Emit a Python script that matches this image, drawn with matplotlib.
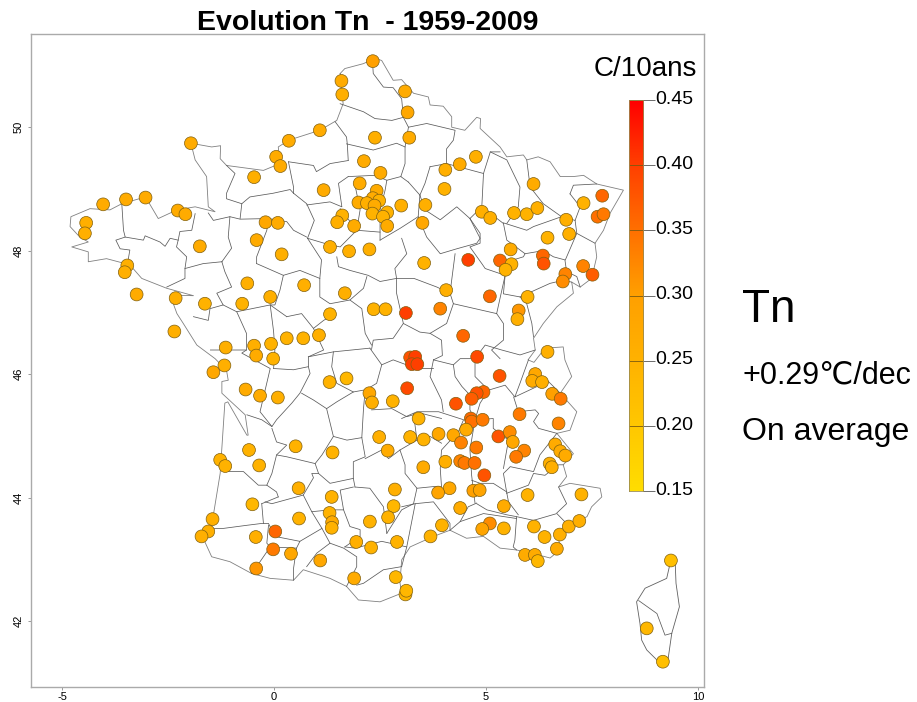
import matplotlib
matplotlib.use('Agg')
import matplotlib.pyplot as plt
import numpy as np
from matplotlib.colors import LinearSegmentedColormap
from matplotlib.transforms import ScaledTranslation

plt.rcParams['font.family'] = ['Liberation Sans', 'DejaVu Sans']
plt.rcParams['axes.unicode_minus'] = False

# Stations: longitude, latitude, trend in C per decade
lon = [-1.96, .35, 1.08, .05, .15, -.47, 1.17, -4.03, -3.49, -3.03, -2.27, -2.09, -4.43, -4.46, -.20, .09, -.41, -1.75, .18, -3.46,
       -3.52, -3.24, -.63, .71, -2.32, -1.63, -.75, -.09, -2.35, -1.14, -.47, -.07, .30, .69, 1.06, -.42, -.02, 1.32, 1.32,
       2.33, 1.59, 1.61, 3.09, 3.15, 2.38, 3.19, 2.12, 2.51, 2.02, 2.42, 2.33, 2.48, 1.99, 2.19, 2.37, 2.32, 2.67, 2.57, 2.67,
       3.00, 1.61, 1.49, 1.89, 3.57, 3.50, 4.04, 4.38, 4.76, 4.02, 1.77, 2.25, 3.54, 4.06, 4.58, 5.33, 5.60, 5.46, 5.58, 4.90,
       5.10, 5.66, 5.96, 6.21, 6.12, 6.89, 6.96, 6.45, 7.30, 7.74, 7.63, 7.77, 6.34, 6.36, 7.29, 7.51, 6.87, 6.81, 5.09, 5.98,
       5.77, 5.74, 1.67, 2.35, 2.63, 3.11, 3.92, 4.46, 6.45, 3.21, 3.33, 3.25, 3.38, 4.79,
       -1.17, -1.43, -.67, -.33, .09, 1.31, 1.71, 2.25, 2.31, 2.80, 3.14, 3.41, 2.48, 3.21, 3.53, 2.68, 3.52, .51, 1.38, -.59,
       -.35, -1.27, -1.15, .58, 1.36, 2.85, 2.82, -.51, .59, 1.31, 1.37, 1.36, 2.26, 2.69, -1.45, -1.55, -1.71, -.43, .03, -.02,
       .40, 1.09, -.42, 1.94, 2.29, 2.90, 3.69, 1.89, 2.87, 3.10, 3.12,
       6.16, 6.09, 6.32, 6.56, 6.76, 5.32, 4.94, 4.78, 4.66, 4.29, 5.79, 4.64, 4.66, 4.92, 4.53, 4.23, 3.88, 4.41, 5.29, 5.56,
       5.63, 6.71, 6.63, 6.75, 6.87, 5.90, 5.71, 4.77, 4.39, 4.49, 4.73, 4.04, 4.96, 6.50, 6.55, 4.14, 3.87, 4.70, 4.85, 4.39,
       5.42, 5.98, 7.25, 5.09, 4.91, 5.42, 3.96, 6.13, 6.38, 6.74, 6.95, 7.20, 6.67, 5.92, 6.15, 6.22, 9.36, 8.79, 9.17]
lat = [49.74, 49.78, 49.95, 49.52, 49.37, 49.19, 48.98, 48.75, 48.83, 48.86, 48.65, 48.59, 48.45, 48.28, 48.46, 48.45, 48.17, 48.07, 47.94, 47.76,
       47.65, 47.29, 47.47, 47.44, 47.23, 47.14, 47.14, 47.25, 46.69, 46.43, 46.46, 46.49, 46.58, 46.58, 46.63, 46.30, 46.25, 48.06, 46.97,
       51.07, 50.75, 50.53, 50.58, 50.24, 49.83, 49.83, 49.45, 49.26, 49.09, 48.97, 48.85, 48.81, 48.78, 48.77, 48.73, 48.60, 48.62, 48.55, 48.40,
       48.73, 48.57, 48.46, 48.40, 48.74, 48.45, 49.31, 49.40, 49.52, 49.00, 47.99, 48.02, 47.80, 47.36, 47.85, 47.84, 47.78, 47.69, 48.02, 48.63,
       48.53, 48.61, 48.59, 48.69, 49.08, 48.50, 48.27, 48.21, 48.77, 48.89, 48.55, 48.59, 47.92, 47.79, 47.75, 47.61, 47.62, 47.50, 47.26, 47.25,
       47.03, 46.89, 47.31, 47.05, 47.05, 46.99, 47.06, 46.62, 46.36, 46.27, 46.28, 46.16, 46.16, 46.28,
       46.14, 46.03, 45.75, 45.65, 45.62, 45.87, 45.93, 45.69, 45.54, 45.56, 45.77, 45.28, 44.98, 44.98, 44.94, 44.76, 44.49, 44.83, 44.73, 44.77,
       44.52, 44.61, 44.51, 44.15, 44.01, 44.13, 43.86, 43.89, 43.66, 43.75, 43.60, 43.51, 43.61, 43.68, 43.65, 43.45, 43.37, 43.36, 43.45, 43.16,
       43.09, 42.98, 42.85, 43.28, 43.19, 43.28, 43.37, 42.69, 42.71, 42.43, 42.49,
       46.00, 45.89, 45.87, 45.68, 45.60, 45.97, 45.71, 45.69, 45.60, 45.52, 45.35, 45.28, 45.23, 45.26, 45.10, 45.01, 45.03, 44.89, 44.99, 45.06,
       44.90, 45.20, 44.86, 44.75, 44.68, 44.76, 44.66, 44.81, 44.59, 44.56, 44.56, 44.58, 44.36, 44.55, 44.49, 44.15, 44.08, 44.11, 44.12, 43.83,
       43.86, 44.04, 44.05, 43.58, 43.49, 43.50, 43.55, 43.53, 43.36, 43.40, 43.53, 43.62, 43.17, 43.07, 43.07, 42.97, 42.98, 41.88, 41.34]
trend = [.27, .27, .27, .27, .27, .26, .27, .27, .27, .27, .27, .27, .26, .26, .28, .27, .27, .27, .26, .26,
         .26, .27, .26, .26, .26, .25, .25, .26, .26, .26, .26, .25, .25, .25, .26, .27, .25, .26, .25,
         .30, .27, .26, .27, .28, .26, .27, .27, .27, .27, .27, .27, .25, .27, .26, .27, .25, .25, .25, .27,
         .26, .25, .26, .27, .26, .28, .26, .27, .26, .25, .26, .26, .25, .26, .40, .36, .25, .25, .27, .26,
         .26, .25, .25, .26, .27, .26, .26, .25, .25, .36, .35, .34, .36, .38, .33, .37, .33, .32, .36, .25,
         .31, .26, .26, .25, .25, .40, .33, .36, .26, .38, .40, .40, .40, .39,
         .26, .28, .27, .27, .26, .25, .24, .28, .26, .25, .39, .25, .26, .25, .25, .27, .27, .25, .25, .25,
         .25, .25, .25, .26, .25, .26, .24, .24, .25, .25, .27, .25, .25, .25, .26, .26, .26, .26, .36, .34,
         .28, .28, .31, .26, .25, .25, .25, .27, .24, .24, .24,
         .28, .27, .26, .30, .34, .38, .36, .38, .37, .38, .34, .36, .35, .34, .27, .28, .28, .33, .38, .32,
         .28, .33, .27, .27, .27, .33, .34, .34, .33, .34, .35, .26, .38, .26, .26, .28, .29, .30, .29, .27,
         .27, .25, .25, .32, .29, .25, .25, .25, .25, .26, .26, .26, .27, .27, .27, .24, .22, .24, .22]

# Coastline and land frontier
france_outline = [(1.56, 50.87), (1.67, 50.95), (2.11, 51.03), (2.38, 51.12), (2.54, 51.08), (2.81, 50.76), (3.01, 50.77), (3.29, 50.55),
                  (3.64, 50.49), (3.68, 50.36), (3.99, 50.34), (4.19, 50.17), (4.19, 50.0), (4.50, 49.95), (4.78, 50.16), (4.87, 50.14),
                  (4.86, 49.98), (5.33, 49.68), (5.49, 49.52), (5.88, 49.55), (5.96, 49.47), (6.23, 49.52), (6.51, 49.44), (6.75, 49.20),
                  (7.06, 49.20), (7.30, 49.22), (7.61, 49.08), (8.24, 48.98), (7.92, 48.60), (7.77, 48.33), (7.57, 48.12), (7.61, 47.90),
                  (7.49, 47.55), (7.22, 47.41), (7.02, 47.49), (7.06, 47.31), (6.67, 47.09), (6.35, 46.82), (6.12, 46.58), (6.16, 46.39),
                  (5.99, 46.23), (6.13, 46.19), (6.39, 46.42), (6.82, 46.44), (6.86, 46.23), (7.02, 45.96), (6.75, 45.69), (7.14, 45.39),
                  (6.98, 45.09), (6.67, 45.04), (7.06, 44.71), (6.82, 44.53), (6.90, 44.34), (6.71, 44.17), (6.98, 44.23), (7.69, 44.15),
                  (7.73, 44.01), (7.49, 43.85), (7.38, 43.69), (6.90, 43.53), (6.67, 43.37), (6.79, 43.18), (6.51, 43.02), (6.12, 43.09),
                  (5.72, 43.15), (5.33, 43.18), (4.94, 43.37), (4.54, 43.34), (4.15, 43.47), (3.76, 43.37), (3.21, 43.20), (3.01, 42.99),
                  (2.97, 42.62), (3.01, 42.45), (2.50, 42.31), (1.99, 42.34), (1.71, 42.56), (1.32, 42.69), (.69, 42.83), (.46, 42.66),
                  (-.09, 42.69), (-.53, 42.77), (-1.04, 42.96), (-1.47, 43.04), (-1.65, 43.31), (-1.47, 43.55), (-1.27, 44.39), (-1.16, 45.53),
                  (-1.09, 45.55), (-.64, 45.01), (-.61, 45.01), (-.68, 45.34), (-1.23, 45.69), (-1.23, 45.88), (-1.08, 45.90), (-1.12, 46.06),
                  (-1.39, 46.25), (-1.82, 46.47), (-2.14, 46.82), (-2.29, 46.98), (-2.45, 47.28), (-1.90, 47.27), (-2.53, 47.39), (-3.12, 47.55),
                  (-3.40, 47.77), (-3.95, 47.87), (-4.38, 47.82), (-4.38, 47.98), (-4.77, 48.06), (-4.38, 48.14), (-4.58, 48.22), (-4.81, 48.39),
                  (-4.79, 48.55), (-4.34, 48.68), (-3.87, 48.66), (-3.59, 48.76), (-3.03, 48.87), (-2.73, 48.52), (-2.29, 48.66), (-1.86, 48.71),
                  (-1.39, 48.63), (-1.55, 48.71), (-1.59, 49.2), (-1.86, 49.47), (-1.96, 49.74), (-1.47, 49.68), (-1.26, 49.70), (-1.27, 49.49),
                  (-1.12, 49.38), (-.25, 49.30), (.14, 49.41), (.10, 49.68), (.35, 49.79), (1.08, 49.95), (1.48, 50.11), (1.63, 50.38), (1.56, 50.87)]
corsica_outline = [(9.46, 42.96), (9.48, 42.61), (9.56, 42.23), (9.38, 41.80), (9.29, 41.37), (9.10, 41.32), (8.79, 41.53), (8.67, 41.69),
                   (8.63, 41.96), (8.55, 42.31), (8.75, 42.53), (9.26, 42.69), (9.34, 42.93), (9.46, 42.96)]

# Department borders
borders = [
    [(8.6, 42.33), (9.03, 42.12), (9.22, 41.77), (9.38, 41.80)],
    [(-3.59, 48.76), (-3.55, 48.33), (-3.51, 48.22), (-3.73, 48.17), (-3.63, 48.03), (-3.40, 48.01), (-3.44, 47.85)],
    [(-3.51, 48.22), (-3.08, 48.17), (-3.04, 48.24), (-2.69, 48.14), (-2.57, 48.07), (-2.45, 48.20), (-2.26, 48.17)],
    [(-1.86, 48.60), (-1.94, 48.33), (-2.22, 48.31), (-2.26, 48.17), (-2.30, 48.06), (-2.06, 47.90), (-2.10, 47.71), (-2.10, 47.55), (-2.53, 47.41)],
    [(-2.10, 47.71), (-1.67, 47.79), (-1.23, 47.82)],
    [(-1.55, 48.61), (-1.43, 48.49), (-1.04, 48.55), (-1.08, 48.22), (-1.0, 48.04), (-1.23, 47.82)],
    [(-1.04, 48.55), (-.80, 48.51), (-.13, 48.52), (-.17, 48.33), (-.41, 47.90), (-.41, 47.79)],
    [(-1.12, 49.38), (-.92, 49.25), (-1.12, 48.93), (-1.12, 48.84), (-.76, 48.76), (-.80, 48.52)],
    [(-.76, 48.76), (-.57, 48.87), (-.02, 48.93), (.38, 48.99), (.46, 48.93)],
    [(-.13, 48.52), (.30, 48.47), (.46, 48.33), (.77, 48.22)],
    [(.46, 48.93), (.77, 48.76), (.95, 48.49), (.79, 48.20)],
    [(.34, 49.44), (.46, 49.03), (.46, 48.93)],
    [(.34, 49.44), (.93, 49.38), (1.0, 49.28), (1.32, 49.41), (1.75, 49.46)],
    [(1.44, 50.09), (1.71, 49.84), (1.73, 49.71), (1.75, 49.46)],
    [(.77, 48.74), (1.32, 48.79), (1.60, 48.71), (1.52, 49.09), (1.75, 49.2)],
    [(1.56, 50.38), (2.11, 50.25), (2.38, 50.14), (2.78, 50.11), (3.05, 50.16)],
    [(2.33, 50.98), (2.34, 50.87), (2.58, 50.65), (2.81, 50.64), (3.01, 50.46), (3.05, 50.16)],
    [(3.05, 50.16), (3.17, 50.0), (3.60, 50.06), (4.27, 49.95), (4.23, 49.79), (4.07, 49.65), (4.07, 49.41)],
    [(1.71, 49.73), (2.34, 49.63), (2.89, 49.74), (3.09, 49.68)],
    [(3.17, 50.0), (3.09, 49.68), (3.09, 49.41), (2.99, 49.2), (3.17, 49.11)],
    [(1.75, 49.2), (2.38, 49.22), (2.66, 49.14), (2.99, 49.2)],
    [(3.17, 49.11), (3.44, 48.9), (3.40, 48.55), (2.97, 48.36), (2.5, 48.17)],
    [(2.66, 49.14), (2.62, 48.98), (2.5, 48.66), (2.5, 48.17)],
    [(1.91, 49.06), (2.03, 48.66), (1.95, 48.33), (1.56, 48.68)],
    [(1.95, 48.33), (2.5, 48.30)],
    [(.79, 48.20), (1.28, 48.1), (1.56, 48.06), (1.95, 48.33)],
    [(3.40, 48.55), (3.60, 48.22), (3.92, 47.95), (4.31, 48.03), (4.78, 48.12), (4.86, 48.2), (4.62, 48.52), (4.31, 48.71), (3.92, 48.5), (3.56, 48.66), (3.44, 48.9)],
    [(3.68, 49.36), (4.07, 49.41), (4.94, 49.25), (5.1, 49.6), (5.33, 49.6)],
    [(3.68, 49.36), (3.56, 49.09), (3.44, 48.9)],
    [(4.94, 49.25), (4.90, 48.71), (4.62, 48.52)],
    [(5.1, 49.6), (5.49, 49.47), (5.8, 49.03), (5.76, 48.71), (5.49, 48.44)],
    [(4.90, 48.71), (5.41, 48.44)],
    [(5.96, 49.47), (6.04, 49.03), (6.35, 48.76), (6.78, 48.55)],
    [(6.98, 48.92), (7.06, 49.06), (7.61, 49.08)],
    [(6.98, 48.92), (7.22, 48.71), (7.1, 48.49)],
    [(5.41, 48.45), (5.96, 48.33), (6.12, 48.39), (6.78, 48.55), (7.1, 48.49), (7.14, 48.28), (6.87, 47.85)],
    [(7.14, 48.28), (7.57, 48.12)],
    [(4.62, 48.52), (4.86, 48.28), (4.86, 48.12), (4.62, 48.06), (4.9, 47.79), (4.98, 47.71), (5.45, 47.60), (5.64, 47.85), (5.88, 47.9), (5.92, 47.95), (5.49, 48.17), (5.41, 48.44)],
    [(5.45, 47.6), (5.41, 47.3), (5.8, 47.25), (6.51, 47.47), (6.82, 47.52), (7.02, 47.49)],
    [(5.92, 47.95), (6.35, 48.0), (6.59, 47.9), (6.86, 47.85), (6.9, 47.66), (7.14, 47.58), (7.22, 47.41)],
    [(6.82, 47.52), (6.9, 47.66)],
    [(5.8, 47.25), (5.96, 47.14), (6.08, 46.82), (6.12, 46.6)],
    [(3.01, 48.2), (3.13, 47.95), (2.85, 47.71), (2.89, 47.55), (3.3, 47.55), (3.84, 47.41), (4.15, 47.31), (4.23, 47.14), (5.25, 46.98)],
    [(1.48, 47.9), (1.52, 47.74), (1.79, 47.68), (2.22, 47.6), (2.5, 47.5), (2.89, 47.55)],
    [(2.19, 47.58), (2.11, 47.39), (1.79, 47.2), (2.07, 47.06), (2.15, 46.66), (2.3, 46.47)],
    [(2.89, 47.55), (2.89, 47.31), (3.05, 46.82), (2.81, 46.58), (2.34, 46.55), (2.3, 46.4)],
    [(4.27, 47.95), (4.15, 47.31)],
    [(5.25, 46.98), (5.45, 47.6)],
    [(3.05, 46.82), (3.44, 46.68), (3.68, 46.66), (4.07, 46.82), (4.23, 47.14)],
    [(5.25, 46.98), (5.41, 46.82), (5.41, 46.55), (5.13, 46.39), (5.33, 46.25)],
    [(-1.9, 46.93), (-1.55, 46.87), (-1.51, 47.06), (-1.2, 47.12), (-1.35, 47.31), (-1.0, 47.41), (-1.16, 47.66), (-1.23, 47.82)],
    [(-1.2, 47.12), (-.88, 47.01), (-.09, 47.12), (.3, 46.93)],
    [(-.88, 47.01), (-.65, 46.66), (-.65, 46.39), (-1.5, 46.39)],
    [(-.09, 47.12), (-.01, 46.69), (.02, 46.39), (-.01, 46.09)],
    [(-.65, 46.39), (-.76, 46.34), (-.09, 46.09), (-.33, 45.39), (-.05, 45.15)],
    [(-.01, 46.09), (.46, 46.07), (.81, 46.12), (.85, 46.01), (.61, 45.69), (.42, 45.53), (.06, 45.26), (-.05, 45.15), (-.29, 45.26), (-.64, 45.34)],
    [(-.05, 45.12), (.06, 44.9), (.3, 44.85), (.06, 44.69), (-.05, 44.39), (-.17, 44.2)],
    [(-1.08, 44.42), (-.72, 44.42), (-.37, 44.2), (-.17, 44.2), (.06, 44.09), (.1, 44.01)],
    [(.06, 44.69), (.3, 44.66), (.97, 44.55), (1.05, 44.39), (1.32, 44.23), (1.87, 44.31)],
    [(.97, 44.55), (1.13, 44.69), (1.4, 44.99), (1.24, 45.44)],
    [(.65, 45.69), (.93, 45.58), (1.24, 45.44), (1.48, 45.55), (1.87, 45.71), (2.11, 45.74)],
    [(.81, 46.28), (1.4, 46.36), (2.26, 46.42)],
    [(1.4, 46.36), (1.36, 46.12), (1.48, 45.85), (1.87, 45.71)],
    [(2.26, 46.42), (2.54, 46.15), (2.42, 45.85), (2.15, 45.74), (2.11, 45.44), (2.07, 44.97), (2.15, 44.66), (1.87, 44.58), (1.87, 44.31), (1.91, 44.17)],
    [(1.4, 44.99), (1.72, 44.93), (2.07, 44.97)],
    [(2.54, 46.15), (2.81, 46.23), (3.36, 46.09), (3.76, 46.09)],
    [(2.3, 45.42), (2.78, 45.44), (3.13, 45.31), (3.44, 45.37), (3.95, 45.28)],
    [(2.15, 44.63), (2.54, 44.77), (2.7, 44.63), (2.97, 44.77), (3.09, 44.53), (3.09, 44.39), (3.37, 44.15), (3.29, 43.9), (3.01, 43.8), (2.66, 43.42)],
    [(-.21, 43.93), (-.05, 43.9), (.69, 44.04), (.93, 44.32), (.89, 44.39), (1.05, 44.39)],
    [(.69, 44.04), (.89, 43.77), (1.32, 43.8), (1.64, 43.8), (1.56, 44.12), (1.87, 44.17)],
    [(1.64, 43.8), (1.79, 43.53), (2.03, 43.48), (2.03, 43.37), (1.67, 43.2)],
    [(1.91, 44.17), (2.26, 44.15), (2.58, 43.85), (2.66, 43.42)],
    [(1.67, 43.2), (1.91, 43.18), (2.54, 43.29), (3.13, 43.2), (3.01, 42.88)],
    [(-1.43, 43.5), (-1.19, 43.5), (-.64, 43.55), (-.29, 43.58), (-.13, 43.58), (.02, 43.37), (.61, 43.29), (.53, 43.18), (.46, 42.85), (.46, 42.66)],
    [(-.29, 43.9), (-.25, 43.58)],
    [(.1, 44.01), (-.29, 43.9)],
    [(-.13, 43.55), (-.17, 43.26), (-.09, 43.2), (-.33, 42.96), (-.53, 42.77)],
    [(-.09, 43.2), (.53, 43.18)],
    [(.61, 43.29), (1.13, 43.5), (.89, 43.77)],
    [(1.13, 43.5), (1.32, 43.26)],
    [(.77, 42.88), (1.01, 43.1), (1.32, 43.26), (1.64, 43.18), (1.95, 43.04), (1.95, 42.88), (1.71, 42.56)],
    [(1.95, 42.58), (2.11, 42.61), (2.58, 42.83), (3.01, 42.88)],
    [(3.13, 43.2), (3.33, 43.9)],
    [(3.01, 43.85), (3.33, 43.9), (3.76, 43.93), (4.15, 43.58), (4.15, 43.47)],
    [(4.15, 43.47), (4.39, 43.61), (4.58, 43.85), (4.78, 43.91)],
    [(4.39, 43.61), (4.94, 43.74), (5.72, 43.66)],
    [(4.78, 43.9), (5.02, 43.8), (5.49, 43.72), (5.72, 43.69), (5.68, 43.31), (5.64, 43.2), (5.72, 43.15)],
    [(5.72, 43.69), (6.12, 43.63), (6.67, 43.74), (6.94, 43.55)],
    [(6.67, 43.75), (6.9, 43.9), (6.71, 44.17)],
    [(5.49, 44.07), (5.53, 43.93), (5.76, 43.72)],
    [(5.49, 44.07), (6.0, 44.2), (6.12, 44.39), (6.39, 44.36), (6.71, 44.53), (6.82, 44.53)],
    [(5.49, 44.07), (5.41, 44.39), (5.53, 44.47), (5.57, 44.5), (6.12, 44.42), (6.27, 44.69), (6.67, 45.04)],
    [(5.65, 45.63), (5.76, 45.39), (6.16, 45.42), (6.24, 45.36), (6.12, 45.23), (6.24, 45.12), (6.67, 45.04)],
    [(6.0, 46.23), (5.8, 45.85), (5.68, 45.63), (6.27, 45.82), (6.47, 45.88), (6.75, 45.69)],
    [(4.74, 46.25), (4.98, 46.47), (5.37, 46.39), (5.8, 46.31), (6.16, 46.39)],
    [(4.74, 46.25), (4.74, 45.96), (5.06, 45.74), (5.45, 45.82), (5.68, 45.63)],
    [(4.23, 46.15), (4.27, 45.96), (4.43, 45.8), (4.62, 45.66), (4.62, 45.42), (4.74, 45.26)],
    [(5.06, 45.74), (4.86, 45.53), (4.74, 45.26)],
    [(4.82, 45.26), (5.17, 45.28), (5.17, 45.12), (5.53, 44.93), (5.41, 44.47)],
    [(4.74, 45.26), (4.62, 44.77), (4.66, 44.36), (4.74, 43.91)],
    [(4.66, 44.28), (4.86, 44.23), (5.17, 44.23), (5.49, 44.09)],
    [(3.76, 46.23), (3.68, 45.96), (3.95, 45.58), (3.99, 45.39)],
    [(3.01, 45.28), (3.37, 45.39), (3.88, 45.39), (4.47, 45.26), (4.35, 45.07), (3.95, 44.77), (3.92, 44.47), (3.95, 44.17), (3.8, 44.18), (3.37, 44.15)],
    [(2.97, 44.77), (3.37, 44.93), (3.29, 45.36)],
    [(3.37, 44.93), (3.68, 44.99), (3.95, 44.88)],
    [(3.68, 46.66), (3.95, 46.55), (3.97, 46.3), (3.76, 46.23)],
    [(3.76, 46.23), (4.23, 46.15), (4.39, 46.25), (4.74, 46.25)],
    [(-.41, 47.79), (.22, 47.6), (.61, 47.68), (1.08, 47.55)],
    [(.79, 48.2), (1.12, 47.85), (1.08, 47.55), (1.08, 47.25), (1.32, 47.14), (1.79, 47.2)],
    [(.3, 46.93), (.65, 46.98), (.93, 46.74), (1.17, 46.87), (1.32, 46.93)],
    [(.22, 47.6), (.14, 47.36), (.02, 47.12), (-.09, 47.12)],
    [(.93, 46.74), (1.17, 46.39), (.81, 46.28), (.81, 46.12)],
]

# Colour bar
cbar_ticks = [.15, .20, .25, .30, .35, .40, .45]
cmap_stops = ['#FFDD00', '#FFB200', '#FFA000', '#FF7000', '#FF4000', '#FF0000']
cmap = LinearSegmentedColormap.from_list('tn', list(zip(np.linspace(0, 1, 7)[[0, 2, 3, 4, 5, 6]], cmap_stops)))


def box(left, top, right, bottom):
    return [left / 917, 1 - bottom / 702, (right - left) / 917, (bottom - top) / 702]


fig = plt.figure(figsize=(9.17, 7.02), dpi=100)
ax = fig.add_axes(box(30.5, 34, 704, 687))

ax.plot(*zip(*france_outline), color='#808080', lw=0.6, zorder=1)
ax.plot(*zip(*corsica_outline), color='#606060', lw=0.6, zorder=1)
for line in borders:
    ax.plot(*zip(*line), color='#5a5a5a', lw=0.55, zorder=1)

ax.scatter(lon, lat, c=trend, cmap=cmap, vmin=.15, vmax=.45, s=85,
           edgecolors='#80600f', linewidths=0.5, zorder=3)

ax.set_xlim(-5.743, 10.14)
ax.set_ylim(40.93, 51.51)
ax.set_xticks([-5, 0, 5, 10])
ax.set_yticks([42, 44, 46, 48, 50])
ax.tick_params(labelsize=8, length=2.2, width=0.7, color='#999999')
ax.tick_params(axis='x', pad=1.5)
ax.tick_params(axis='y', pad=3)
plt.setp(ax.get_yticklabels(), rotation=90, va='center')
for s in ax.spines.values():
    s.set_color('#aaaaaa')
    s.set_linewidth(1.0)

# Colour bar axes
cax = fig.add_axes(box(629, 100, 643, 491))
cax.imshow(np.linspace(.45, .15, 256)[:, None], cmap=cmap, vmin=.15, vmax=.45,
           aspect='auto', extent=[0, 1, .15, .45])
cax.set_xticks([])
cax.set_yticks(cbar_ticks)
cax.set_yticklabels(['%.2f' % t for t in cbar_ticks], fontsize=14)
cax.yaxis.tick_right()
cax.tick_params(axis='y', length=8.5, width=0.6, color='#555555', pad=0)
cax.hlines(cbar_ticks, 0, 1, color='#7a5a10', lw=0.6)
# labels sit a little above their ticks
for label in cax.get_yticklabels():
    label.set_transform(label.get_transform() + ScaledTranslation(0, 2 / 72, fig.dpi_scale_trans))
for s in cax.spines.values():
    s.set_color('#9a8a50')
    s.set_linewidth(0.6)

fig.text(368 / 917, 1 - 30.5 / 702, 'Evolution Tn  - 1959-2009', fontsize=20.5,
         fontweight='bold', ha='center', va='baseline')
fig.text(697 / 917, 1 - 76 / 702, 'C/10ans', fontsize=20, ha='right', va='baseline')
fig.text(742 / 917, 1 - 322 / 702, 'Tn', fontsize=33, va='baseline')
fig.text(742 / 917, 1 - 383 / 702, '+0.29\u2103/dec', fontsize=22, va='baseline')
fig.text(742 / 917, 1 - 440 / 702, 'On average', fontsize=23, va='baseline')

fig.savefig('out.png', dpi=100)
